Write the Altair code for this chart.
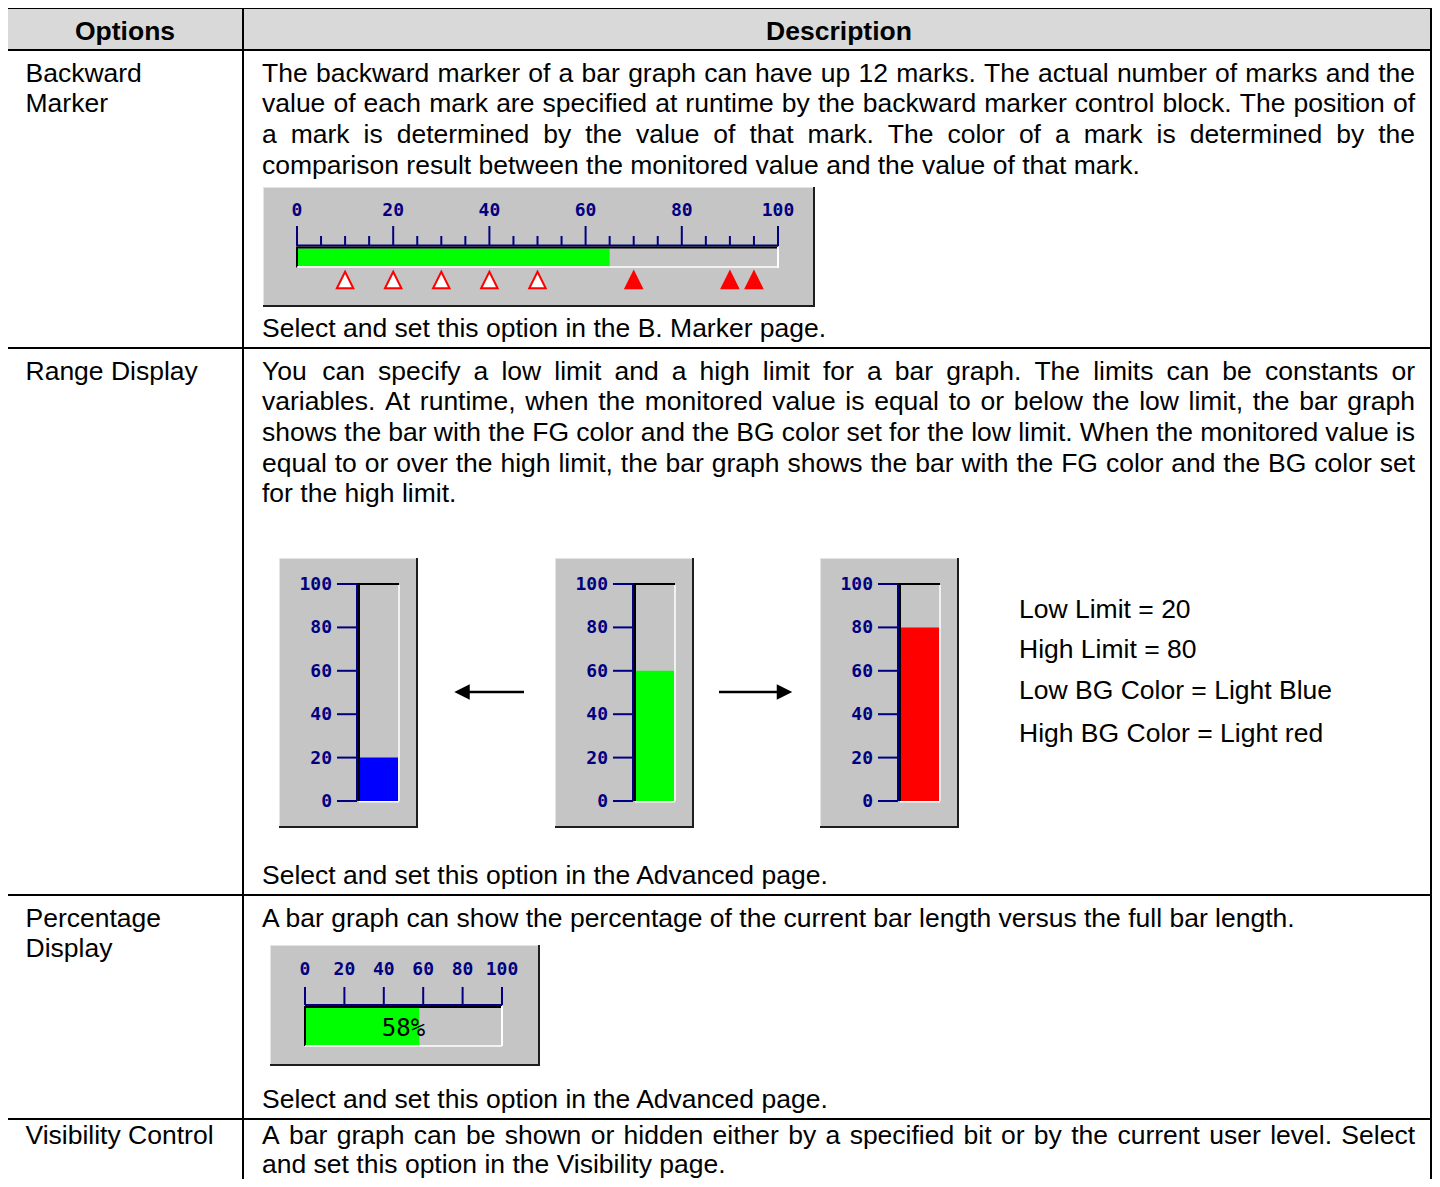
import altair as alt
import pandas as pd

# ---------------- content ----------------
HEADERS = ["Options", "Description"]
OPTIONS = [["Backward", "Marker"], ["Range Display"], ["Percentage", "Display"], ["Visibility Control"]]

BM_TEXT = [
    "The backward marker of a bar graph can have up 12 marks. The actual number of marks and the",
    "value of each mark are specified at runtime by the backward marker control block. The position of",
    "a mark is determined by the value of that mark. The color of a mark is determined by the",
    "comparison result between the monitored value and the value of that mark.",
]
BM_NOTE = "Select and set this option in the B. Marker page."
RD_TEXT = [
    "You can specify a low limit and a high limit for a bar graph. The limits can be constants or",
    "variables. At runtime, when the monitored value is equal to or below the low limit, the bar graph",
    "shows the bar with the FG color and the BG color set for the low limit. When the monitored value is",
    "equal to or over the high limit, the bar graph shows the bar with the FG color and the BG color set",
    "for the high limit.",
]
RD_NOTE = "Select and set this option in the Advanced page."
RD_LEGEND = ["Low Limit = 20", "High Limit = 80", "Low BG Color = Light Blue", "High BG Color = Light red"]
PD_TEXT = ["A bar graph can show the percentage of the current bar length versus the full bar length."]
PD_NOTE = "Select and set this option in the Advanced page."
VC_TEXT = [
    "A bar graph can be shown or hidden either by a specified bit or by the current user level. Select",
    "and set this option in the Visibility page.",
]

SCALE_LABELS = [0, 20, 40, 60, 80, 100]
BM_MINOR = [5, 10, 15, 25, 30, 35, 45, 50, 55, 65, 70, 75, 85, 90, 95]
BM_VALUE = 65
BM_MARKS = [10, 20, 30, 40, 50, 70, 90, 95]
RANGE_VALUES = [20, 60, 80]
RANGE_FG = ["#0000ff", "#00ff00", "#ff0000"]
PCT_VALUE = 58

# ---------------- layout ----------------
W, H = 1424, 1171
M = 8
FS = 26.5
LH = 30.7
FONT = "Liberation Sans"
MONO = "DejaVu Sans Mono"
NAVY = "#000080"
GRAY = "#c5c5c5"
DARK = "#1e1e1e"
LIGHT = "#e4e4e4"

PX = alt.Scale(domain=[M, M + W], range=[0, W], nice=False, zero=False)
PY = alt.Scale(domain=[M, M + H], range=[0, H], nice=False, zero=False)


def vscale(p0, p1):
    return alt.Scale(domain=[0, 100], range=[p0 - M, p1 - M], nice=False, zero=False)


BM_X = vscale(297, 778)
PD_X = vscale(305, 502)
GA_Y = vscale(801, 584)

AW = {" ": 278, ".": 278, ",": 278, "=": 584, "%": 889, "-": 333, "'": 191, ":": 278}
AW.update({d: 556 for d in "0123456789"})
AW.update(dict(zip("ABCDEFGHIJKLMNOPQRSTUVWXYZ",
                   [667, 667, 722, 722, 667, 611, 778, 722, 278, 500, 667, 556, 833, 722, 778, 667, 778,
                    722, 667, 611, 722, 667, 944, 667, 667, 611])))
AW.update(dict(zip("abcdefghijklmnopqrstuvwxyz",
                   [556, 556, 500, 556, 556, 278, 556, 556, 222, 222, 500, 222, 833, 556, 556, 556, 556,
                    333, 500, 278, 556, 500, 722, 500, 500, 500])))


def tw(s):
    return sum(AW.get(ch, 556) for ch in s) * FS / 1000.0


def paragraph(rows, lines, x0, x1, y0, lh=LH):
    for i, line in enumerate(lines):
        y = y0 + i * lh
        if i == len(lines) - 1:
            rows.append(dict(x=x0, y=y, t=line))
            continue
        words = line.split(" ")
        ws = [tw(w) for w in words]
        gap = (x1 - x0 - sum(ws)) / (len(words) - 1)
        x = x0
        for w, wd in zip(words, ws):
            rows.append(dict(x=x, y=y, t=w))
            x += wd + gap


def rect_layer(df, xs, ys):
    return alt.Chart(pd.DataFrame(df)).mark_rect().encode(
        x=alt.X("x:Q", scale=xs, axis=None), x2="x2:Q",
        y=alt.Y("y:Q", scale=ys, axis=None), y2="y2:Q",
        color=alt.Color("c:N", scale=None))


def rule_layer(df, xs, ys):
    return alt.Chart(pd.DataFrame(df)).mark_rule().encode(
        x=alt.X("x:Q", scale=xs, axis=None), x2="x2:Q",
        y=alt.Y("y:Q", scale=ys, axis=None), y2="y2:Q",
        color=alt.Color("c:N", scale=None),
        strokeWidth=alt.StrokeWidth("w:Q", scale=None))


def text_layer(df, xs, ys, **kw):
    return alt.Chart(pd.DataFrame(df)).mark_text(**kw).encode(
        x=alt.X("x:Q", scale=xs, axis=None),
        y=alt.Y("y:Q", scale=ys, axis=None),
        text="t:N")


def hl(x0, x1, y, c, w):
    return dict(x=x0, x2=x1, y=y, y2=y, c=c, w=w)


def vl(x, y0, y1, c, w):
    return dict(x=x, x2=x, y=y0, y2=y1, c=c, w=w)


layers = []

# ---- table background + widget boxes ----
T_L, T_D, T_R = 7, 243, 1431
ROW_Y = [8, 50, 348, 895, 1119]
GAUGE_L = [279, 555, 820]
BOXES = [(263, 815, 187, 307)] + [(g, g + 139, 558, 828) for g in GAUGE_L] + [(270, 540, 945, 1066)]

bg = [dict(x=T_L, x2=T_R, y=ROW_Y[0], y2=ROW_Y[1], c="#d9d9d9")]
bg += [dict(x=a, x2=b, y=c, y2=d, c=GRAY) for a, b, c, d in BOXES]
layers.append(rect_layer(bg, PX, PY))

edges = []
for a, b, c, d in BOXES:
    edges.append(hl(a, b, c + 0.5, LIGHT, 1))
    edges.append(vl(a + 0.5, c, d, LIGHT, 1))
    edges.append(vl(b - 1, c, d, DARK, 2))
    edges.append(hl(a, b, d - 1, DARK, 2))
layers.append(rule_layer(edges, PX, PY))

# ---- backward marker widget ----
layers.append(rect_layer([dict(x=0, x2=BM_VALUE, y=248.5, y2=266, c="#00ff00")], BM_X, PY))
bm_rules = [vl(v, 226, 246, NAVY, 2) for v in SCALE_LABELS]
bm_rules += [vl(v, 236, 246, NAVY, 2) for v in BM_MINOR]
bm_rules += [hl(0, 100, 245.5, NAVY, 2), hl(0, 100, 247.5, "#000000", 2),
             vl(0, 246.5, 267.5, "#000000", 2), vl(100, 247, 268, "#ffffff", 2),
             hl(0, 100, 267, "#ffffff", 1.5)]
layers.append(rule_layer(bm_rules, BM_X, PY))
layers.append(text_layer([dict(x=v, y=216, t=str(v)) for v in SCALE_LABELS], BM_X, PY,
                         align="center", baseline="alphabetic", font=MONO, fontSize=18,
                         fontWeight="bold", color=NAVY))
TRI = "M0,-1L1,1L-1,1Z"
marks = pd.DataFrame({"x": BM_MARKS, "y": [280] * len(BM_MARKS),
                      "f": ["#ffffff" if m < BM_VALUE else "#ff0000" for m in BM_MARKS]})
layers.append(alt.Chart(marks).mark_point(shape=TRI, size=270, filled=True, stroke="#ff0000",
                                          strokeWidth=2, opacity=1).encode(
    x=alt.X("x:Q", scale=BM_X, axis=None), y=alt.Y("y:Q", scale=PY, axis=None),
    fill=alt.Fill("f:N", scale=None)))

# ---- range display gauges ----
layers.append(rect_layer([dict(x=L + 81, x2=L + 119, y=0, y2=v, c=c)
                          for L, v, c in zip(GAUGE_L, RANGE_VALUES, RANGE_FG)], PX, GA_Y))
g_rules = []
g_text = []
for L in GAUGE_L:
    g_rules += [hl(L + 58, L + 78, v, NAVY, 2) for v in SCALE_LABELS]
    g_rules += [vl(L + 78, 0, 100, NAVY, 2), hl(L + 78, L + 120, 100, "#000000", 2),
                vl(L + 80, 0, 99.5, "#000000", 2), vl(L + 120, 0, 99.5, "#ffffff", 1.5),
                hl(L + 80, L + 120, -0.3, "#ffffff", 1.5)]
    g_text += [dict(x=L + 53, y=v, t=str(v)) for v in SCALE_LABELS]
layers.append(rule_layer(g_rules, PX, GA_Y))
layers.append(text_layer(g_text, PX, GA_Y, align="right", baseline="middle", dy=1,
                         font=MONO, fontSize=18, fontWeight="bold", color=NAVY))

# arrows
layers.append(rule_layer([hl(468, 524, 692, "#000000", 2.5), hl(719, 778, 692, "#000000", 2.5)], PX, PY))
for sx, shape in [(462, "M-1,0L1,-1L1,1Z"), (784.5, "M1,0L-1,-1L-1,1Z")]:
    layers.append(alt.Chart(pd.DataFrame({"x": [sx], "y": [692]})).mark_point(
        shape=shape, size=240, filled=True, color="#000000", opacity=1).encode(
        x=alt.X("x:Q", scale=PX, axis=None), y=alt.Y("y:Q", scale=PY, axis=None)))

# ---- percentage widget ----
layers.append(rect_layer([dict(x=0, x2=PCT_VALUE, y=1008, y2=1045, c="#00ff00")], PD_X, PY))
pd_rules = [vl(v, 987, 1005, NAVY, 2) for v in SCALE_LABELS]
pd_rules += [hl(0, 100, 1005, NAVY, 2), hl(0, 100, 1007, "#000000", 2),
             vl(0, 1006, 1046, "#000000", 2), vl(100, 1006, 1046, "#ffffff", 2),
             hl(0, 100, 1046, "#ffffff", 1.5)]
layers.append(rule_layer(pd_rules, PD_X, PY))
layers.append(text_layer([dict(x=v, y=974.5, t=str(v)) for v in SCALE_LABELS], PD_X, PY,
                         align="center", baseline="alphabetic", font=MONO, fontSize=18,
                         fontWeight="bold", color=NAVY))
layers.append(text_layer([dict(x=50, y=1036, t=f"{PCT_VALUE}%")], PD_X, PY,
                         align="center", baseline="alphabetic", font=MONO, fontSize=24, color="#000000"))

# ---- body text ----
LX, DX0, DX1 = 25.5, 262, 1415
VC_Y, VC_LH = 1144, 29.4
body = []
for name_lines, y0 in zip(OPTIONS, [81.5, 379.5, 926.5, VC_Y]):
    for i, s in enumerate(name_lines):
        body.append(dict(x=LX, y=y0 + i * LH, t=s))
paragraph(body, BM_TEXT, DX0, DX1, 81.5)
paragraph(body, RD_TEXT, DX0, DX1, 379.5)
paragraph(body, PD_TEXT, DX0, DX1, 926.5)
paragraph(body, VC_TEXT, DX0, DX1, VC_Y, lh=VC_LH)
body.append(dict(x=DX0, y=336.5, t=BM_NOTE))
body.append(dict(x=DX0, y=883.5, t=RD_NOTE))
body.append(dict(x=DX0, y=1107.5, t=PD_NOTE))
for s, y in zip(RD_LEGEND, [618, 658, 699, 742]):
    body.append(dict(x=1019, y=y, t=s))
layers.append(text_layer(body, PX, PY, align="left", baseline="alphabetic", font=FONT,
                         fontSize=FS, color="#000000"))
layers.append(text_layer([dict(x=(T_L + 243) / 2, y=39.5, t=HEADERS[0]),
                          dict(x=(243 + 1435) / 2, y=39.5, t=HEADERS[1])], PX, PY,
                         align="center", baseline="alphabetic", font=FONT, fontSize=FS,
                         fontWeight="bold", color="#000000"))

# ---- table grid ----
grid = [vl(x, 7, 1200, "#000000", 2) for x in (T_L, T_D, T_R)]
grid += [hl(6, T_R + 1, y, "#000000", 2) for y in ROW_Y]
layers.append(rule_layer(grid, PX, PY))

chart = alt.layer(*layers).resolve_scale(x="independent", y="independent").properties(
    width=W, height=H, autosize="none", padding=0
).configure_view(strokeWidth=0)

chart.save("out.html", embed_options={"renderer": "svg", "actions": False})
